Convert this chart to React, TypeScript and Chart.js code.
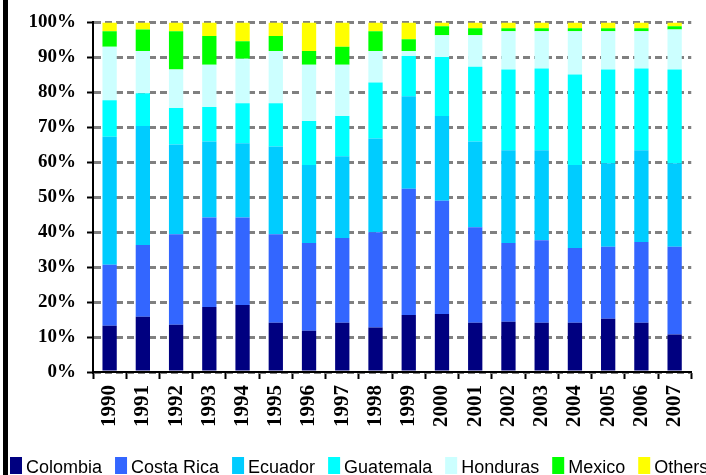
import React, { useEffect, useRef } from "react";
import { Chart, registerables } from "chart.js";

Chart.register(...registerables);

const years = ["1990","1991","1992","1993","1994","1995","1996","1997","1998","1999","2000","2001","2002","2003","2004","2005","2006","2007"];

const colombia = [13.2,15.8,13.5,18.6,19.2,14.1,11.8,14.1,12.7,16.3,16.6,14.1,14.4,14.1,14.1,15.2,14.1,10.7];
const costaRica = [17.5,20.5,25.9,25.6,25.0,25.3,25.1,24.2,27.3,36.1,32.4,27.3,22.5,23.6,21.4,20.6,23.1,25.1];
const ecuador = [36.6,34.1,25.7,21.7,21.2,25.1,22.3,23.4,26.8,26.5,24.2,24.5,26.5,25.7,23.7,23.9,26.2,23.9];
const guatemala = [10.4,9.3,10.4,9.9,11.5,12.4,12.6,11.5,16.0,11.5,16.9,21.4,23.1,23.4,25.9,26.8,23.4,26.8];
const honduras = [15.3,12.1,11.0,12.1,12.7,14.9,16.1,14.7,9.0,1.4,6.2,9.0,11.0,10.7,12.4,11.0,10.7,11.5];
const mexico = [4.5,6.2,11.0,8.2,5.0,4.3,3.9,5.1,5.7,3.4,2.6,2.0,0.8,0.8,0.8,0.8,0.8,0.9];
const others = [2.5,2.0,2.5,3.9,5.4,3.9,8.2,7.0,2.5,4.8,1.1,1.7,1.7,1.7,1.7,1.7,1.7,1.1];

const seriesNames = ["Colombia","Costa Rica","Ecuador","Guatemala","Honduras","Mexico","Others"];
const seriesColors = ["#000080","#3366FF","#00CCFF","#00FFFF","#CCFFFF","#00FF00","#FFFF00"];
const seriesData = [colombia, costaRica, ecuador, guatemala, honduras, mexico, others];

const yTicks = [0,10,20,30,40,50,60,70,80,90,100];

const legendPlugin = {
  id: "customLegend",
  afterDraw(chart: any) {
    const ctx = chart.ctx;
    ctx.save();
    // left black bar
    ctx.fillStyle = "#000";
    ctx.fillRect(3, 0, 5, chart.height);
    ctx.font = "18px 'Liberation Sans', Arial, sans-serif";
    ctx.textBaseline = "alphabetic";
    ctx.textAlign = "left";
    let x = 10;
    const boxW = 12, boxH = 17, boxTop = 457, baseY = 473;
    chart.data.datasets.forEach((ds: any) => {
      ctx.fillStyle = ds.backgroundColor;
      ctx.fillRect(x, boxTop, boxW, boxH);
      x += boxW + 4;
      ctx.fillStyle = "#000";
      ctx.fillText(ds.label, x, baseY);
      x += ctx.measureText(ds.label).width + 13;
    });
    ctx.restore();
  },
};

export default function App() {
  const ref = useRef<HTMLCanvasElement>(null);
  useEffect(() => {
    document.body.style.margin = "0";
    const chart = new Chart(ref.current as HTMLCanvasElement, {
      type: "bar",
      data: {
        labels: years,
        datasets: seriesNames.map((name, i) => ({
          label: name,
          data: seriesData[i],
          backgroundColor: seriesColors[i],
          borderWidth: 0,
          categoryPercentage: 1,
          barPercentage: 0.43,
        })),
      },
      options: {
        animation: false,
        responsive: true,
        maintainAspectRatio: false,
        layout: { padding: { top: 17, right: 6, left: 0, bottom: 0 } },
        plugins: { legend: { display: false }, tooltip: { enabled: false } },
        scales: {
          x: {
            stacked: true,
            afterFit: (s: any) => { s.height = 103; },
            grid: {
              display: true,
              drawOnChartArea: false,
              drawTicks: true,
              tickLength: 7,
              tickColor: "#000",
              tickWidth: 2,
              offset: true,
            },
            border: { display: true, color: "#000", width: 2 },
            ticks: {
              autoSkip: false,
              minRotation: 90,
              maxRotation: 90,
              padding: 6,
              color: "#000",
              font: { family: "'Liberation Serif', 'Times New Roman', serif", size: 21, weight: "bold" },
            },
          },
          y: {
            stacked: true,
            min: 0,
            max: 100,
            afterFit: (s: any) => { s.width = 93; },
            afterBuildTicks: (s: any) => { s.ticks = yTicks.map((v) => ({ value: v })); },
            grid: {
              color: "#808080",
              lineWidth: 3,
              drawTicks: true,
              tickLength: 6,
              tickColor: "#000",
              tickWidth: 2,
            },
            border: { display: true, color: "#000", width: 2, dash: [7, 4] },
            ticks: {
              padding: 11,
              color: "#000",
              callback: (v: any) => v + "%",
              font: { family: "'Liberation Serif', 'Times New Roman', serif", size: 19, weight: "bold" },
            },
          },
        },
      },
      plugins: [legendPlugin],
    });
    return () => chart.destroy();
  }, []);
  return (
    <div style={{ width: 706, height: 475, position: "relative" }}>
      <canvas ref={ref} />
    </div>
  );
}
